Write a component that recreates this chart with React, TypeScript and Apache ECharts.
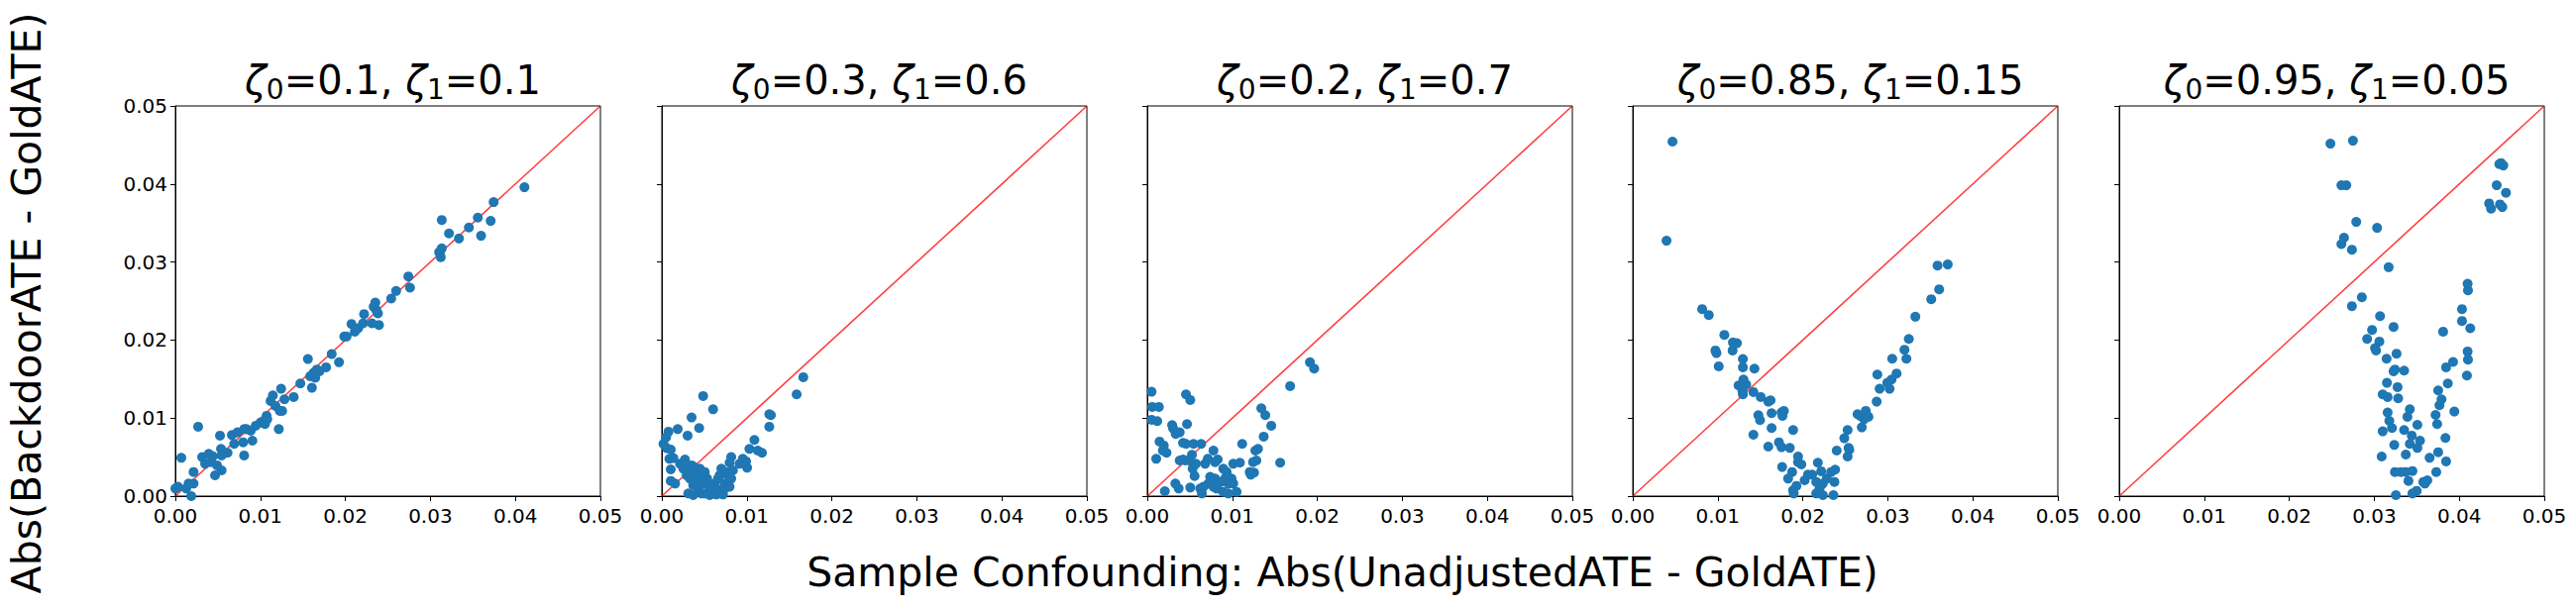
import React, { useEffect, useRef } from 'react';
import * as echarts from 'echarts';

// ---------- data ----------
const zeta0 = ['0.1', '0.3', '0.2', '0.85', '0.95'];
const zeta1 = ['0.1', '0.6', '0.7', '0.15', '0.05'];
const axisTicks = [0, 0.01, 0.02, 0.03, 0.04, 0.05];
const xLabelText = 'Sample Confounding: Abs(UnadjustedATE - GoldATE)';
const yLabelText = 'Abs(BackdoorATE - GoldATE)';
const diagonal = [[0, 0], [0.05, 0.05]];

const panel1: number[][] = [
  [0, 0.00097], [0.00031, 0.00119], [0.0007, 0.00491], [0.00128, 0.00097], [0.00156, 0.00161],
  [0.00187, 0], [0.00214, 0.00161], [0.00214, 0.00309], [0.00268, 0.00889], [0.00315, 0.005],
  [0.0035, 0.00415], [0.00393, 0.00542], [0.00439, 0.00512], [0.0042, 0.00436], [0.00467, 0.00267],
  [0.0049, 0.00394], [0.00525, 0.00775], [0.00544, 0.0033], [0.00537, 0.00605], [0.00544, 0.00521],
  [0.00614, 0.00555], [0.00665, 0.00783], [0.00692, 0.00669], [0.00731, 0.00817], [0.00797, 0.0069],
  [0.00809, 0.00859], [0.00809, 0.00521], [0.00836, 0.00859], [0.00906, 0.00711], [0.00886, 0.00838],
  [0.00945, 0.00902], [0.01003, 0.00944], [0.01054, 0.00923], [0.01073, 0.01029], [0.01081, 0.00986],
  [0.0112, 0.01219], [0.01147, 0.01291], [0.01178, 0.01156], [0.01217, 0.00859], [0.01229, 0.01092],
  [0.01244, 0.01376], [0.01256, 0.01092], [0.01283, 0.0124], [0.01392, 0.0127], [0.0147, 0.01444],
  [0.01559, 0.01757], [0.01586, 0.01537], [0.01606, 0.01389], [0.01625, 0.01579], [0.01645, 0.01516],
  [0.01664, 0.01622], [0.01695, 0.016], [0.01773, 0.01651], [0.01839, 0.0182], [0.01925, 0.01715],
  [0.01987, 0.02045], [0.02014, 0.02045], [0.02072, 0.02206], [0.02111, 0.02108], [0.0215, 0.02151],
  [0.02208, 0.02214], [0.0222, 0.02333], [0.02313, 0.02214], [0.02333, 0.02426], [0.02352, 0.02481],
  [0.02364, 0.02384], [0.02383, 0.02341], [0.02395, 0.02193], [0.02539, 0.02532], [0.02597, 0.02629],
  [0.02741, 0.02815], [0.0276, 0.02671], [0.03122, 0.03061], [0.03114, 0.03133], [0.03134, 0.03175],
  [0.03103, 0.03124], [0.03134, 0.03539], [0.03219, 0.03366], [0.03336, 0.03302], [0.03453, 0.03442],
  [0.03558, 0.03569], [0.03596, 0.03336], [0.03709, 0.03527], [0.03744, 0.03768], [0.04106, 0.03958],
];

const panel2: number[][] = [
  [0.01664, 0.01524], [0.01586, 0.01304], [0.01264, 0.0105], [0.01283, 0.01037], [0.01264, 0.00889],
  [0.01089, 0.0072], [0.0103, 0.00605], [0.01128, 0.00584], [0.01178, 0.00555], [0.01003, 0.00364],
  [0.00953, 0.00478], [0.00991, 0.00445], [0.00914, 0.00415], [0.00816, 0.005], [0.00797, 0.00428],
  [0.00836, 0.0033], [0.00778, 0.00267], [0.00816, 0.00224], [0.00797, 0.00119], [0.00739, 0.00161],
  [0.007, 0.00351], [0.00661, 0.00224], [0.0068, 0.00076], [0.00603, 0.00097], [0.00622, 0.00161],
  [0.00486, 0.01283], [0.00603, 0.01113], [0.0035, 0.01008], [0.00439, 0.00872], [0.00303, 0.00775],
  [0.00187, 0.00859], [0.00078, 0.00826], [0.00051, 0.00754], [0.00019, 0.00669], [0.00058, 0.00614],
  [0.00105, 0.00597], [0.00089, 0.00478], [0.00136, 0.00487], [0.00105, 0.00343], [0.00105, 0.00195],
  [0.00156, 0.00161], [0.00214, 0.00415], [0.00272, 0.0047], [0.00253, 0.00351], [0.00311, 0.00309],
  [0.0035, 0.00394], [0.00377, 0.00373], [0.00408, 0.00267], [0.00447, 0.00351], [0.00467, 0.00288],
  [0.00505, 0.00309], [0.00533, 0.00224], [0.00428, 0.00203], [0.0033, 0.00224], [0.00369, 0.0014],
  [0.00428, 0.00097], [0.00467, 0.00034], [0.00505, 0.00034], [0.00311, 0.00034], [0.00369, 0.00013],
  [0.00292, 0.00267], [0.00564, 0.00013], [0.00642, 0.00021], [0.00719, 0.00021], [0.00739, 0.00097],
  [0.00245, 0.00394], [0.00389, 0.00182], [0.00486, 0.00161], [0.0068, 0.00267], [0.00758, 0.00309],
  [0.00564, 0.00119],
];

const panel3: number[][] = [
  [0.01913, 0.01715], [0.01963, 0.01634], [0.0168, 0.0141], [0.01341, 0.01126], [0.01388, 0.01037],
  [0.01458, 0.00902], [0.01369, 0.00762], [0.01116, 0.00669], [0.01302, 0.00605], [0.01271, 0.00584],
  [0.01283, 0.00457], [0.01244, 0.00436], [0.01563, 0.00428], [0.01089, 0.00428], [0.01011, 0.00415],
  [0.01205, 0.00309], [0.01256, 0.00301], [0.01217, 0.00275], [0.0105, 0.00055], [0.01011, 0.00161],
  [0.00991, 0.00224], [0.00953, 0.00161], [0.00914, 0.00224], [0.00894, 0.00351], [0.00933, 0.00309],
  [0.00867, 0.00182], [0.00816, 0.00097], [0.00797, 0.00224], [0.00739, 0.00246], [0.00778, 0.00119],
  [0.00719, 0.00161], [0.00661, 0.00119], [0.0068, 0.00415], [0.00712, 0.00478], [0.00778, 0.00584],
  [0.00797, 0.00436], [0.00828, 0.0047], [0.00622, 0.00097], [0.00642, 0.00034], [0.00953, 0.00034],
  [0.00894, 0.00055], [0.00505, 0.0011], [0.00369, 0.00097], [0.0033, 0.00161], [0.00206, 0.00064],
  [0.00556, 0.00258], [0.00533, 0.00351], [0.00572, 0.00415], [0.00494, 0.00457], [0.00525, 0.00529],
  [0.00447, 0.00457], [0.0042, 0.0047], [0.00381, 0.00457], [0.00455, 0.00669], [0.0042, 0.00682],
  [0.00544, 0.00669], [0.00634, 0.00669], [0.00467, 0.00923], [0.00455, 0.01304], [0.00505, 0.01232],
  [0.00292, 0.0091], [0.00303, 0.00868], [0.00381, 0.00817], [0.00334, 0.00796], [0.00144, 0.00699],
  [0.00194, 0.00648], [0.00226, 0.00555], [0.00183, 0.00584], [0.00105, 0.00478], [0.0005, 0.01338],
  [0.00058, 0.01143], [0.00136, 0.01143], [0.0005, 0.00978], [0.00117, 0.00961],
];

const panel4: number[][] = [
  [0.00467, 0.04543], [0.00397, 0.03273], [0.00816, 0.02396], [0.00894, 0.0232], [0.01077, 0.02066],
  [0.01178, 0.01969], [0.01225, 0.0196], [0.01174, 0.01867], [0.00972, 0.01867], [0.00984, 0.01833],
  [0.01011, 0.01664], [0.01295, 0.01757], [0.01295, 0.01651], [0.01431, 0.01634], [0.01302, 0.01494],
  [0.01244, 0.01418], [0.01334, 0.01431], [0.01291, 0.01346], [0.01295, 0.01304], [0.01419, 0.01334],
  [0.01505, 0.0127], [0.01594, 0.01211], [0.01621, 0.01228], [0.01477, 0.01037], [0.01497, 0.00974],
  [0.01633, 0.01063], [0.0175, 0.01071], [0.01777, 0.01092], [0.01761, 0.01029], [0.01633, 0.00872],
  [0.01419, 0.00787], [0.01886, 0.00847], [0.01594, 0.00635], [0.01719, 0.0069], [0.0175, 0.00627],
  [0.01847, 0.00618], [0.01944, 0.00508], [0.01944, 0.00436], [0.01983, 0.00406], [0.01757, 0.00373],
  [0.01874, 0.00309], [0.01827, 0.00224], [0.02022, 0.00203], [0.02061, 0.00275], [0.02111, 0.00275],
  [0.02177, 0.00428], [0.02216, 0.00318], [0.02158, 0.00182], [0.02197, 0.00097], [0.02236, 0.00161],
  [0.02282, 0.00224], [0.02333, 0.00309], [0.0238, 0.00339], [0.02372, 0.00182], [0.0236, 0.00013],
  [0.01925, 0.00131], [0.01886, 0.00076], [0.01893, 0.00034], [0.02158, 0.00034], [0.02236, 0.00013],
  [0.02399, 0.00584], [0.02488, 0.00741], [0.02527, 0.00847], [0.02539, 0.00618], [0.02547, 0.00593],
  [0.02527, 0.00508], [0.02644, 0.0105], [0.02675, 0.01029], [0.02694, 0.00881], [0.02722, 0.00986],
  [0.02741, 0.01092], [0.02772, 0.01016], [0.02869, 0.01211], [0.02904, 0.01376], [0.02877, 0.01558],
  [0.02994, 0.01452], [0.03021, 0.01376], [0.03044, 0.01494], [0.03052, 0.01761], [0.03103, 0.01571],
  [0.03196, 0.01876], [0.03219, 0.01761], [0.03247, 0.02015], [0.03324, 0.02299], [0.03511, 0.02523],
  [0.03604, 0.0265], [0.03585, 0.02955], [0.03705, 0.02968],
];

const panel5: number[][] = [
  [0.02484, 0.04517], [0.02749, 0.04555], [0.02613, 0.03984], [0.02671, 0.03984], [0.02788, 0.03514],
  [0.03033, 0.03438], [0.02644, 0.03311], [0.02613, 0.0323], [0.02737, 0.03158], [0.03169, 0.02934],
  [0.02854, 0.02549], [0.02737, 0.02434], [0.03068, 0.02307], [0.02974, 0.0213], [0.03227, 0.02168],
  [0.02916, 0.02015], [0.0306, 0.01981], [0.03009, 0.01897], [0.03021, 0.01867], [0.03262, 0.01825],
  [0.03145, 0.01761], [0.03243, 0.01622], [0.03227, 0.016], [0.03351, 0.01609], [0.03149, 0.01452],
  [0.03274, 0.01397], [0.03099, 0.01304], [0.03157, 0.0127], [0.03281, 0.01253], [0.03157, 0.01071],
  [0.03177, 0.00965], [0.03208, 0.00872], [0.03099, 0.0083], [0.03418, 0.01113], [0.0339, 0.01016],
  [0.03507, 0.00914], [0.03351, 0.00847], [0.03441, 0.00775], [0.03418, 0.00669], [0.03235, 0.00656],
  [0.03538, 0.00711], [0.03507, 0.00618], [0.03371, 0.00533], [0.03087, 0.00508], [0.03651, 0.00491],
  [0.03752, 0.00563], [0.03845, 0.00445], [0.03243, 0.00309], [0.03313, 0.00309], [0.03371, 0.00309],
  [0.03449, 0.00322], [0.03729, 0.00309], [0.03402, 0.00195], [0.03577, 0.00182], [0.03624, 0.00203],
  [0.03596, 0.00161], [0.03499, 0.00068], [0.03449, 0.00034], [0.03254, 0.00013], [0.03837, 0.00745],
  [0.0374, 0.00923], [0.03721, 0.01041], [0.03942, 0.01084], [0.03767, 0.01164], [0.03791, 0.0124],
  [0.03752, 0.01355], [0.03865, 0.01444], [0.03845, 0.01651], [0.03927, 0.01719], [0.0409, 0.01545],
  [0.04102, 0.01749], [0.04098, 0.01854], [0.0381, 0.02108], [0.04129, 0.02151], [0.04032, 0.02244],
  [0.04032, 0.02396], [0.04102, 0.02638], [0.04098, 0.02722], [0.04351, 0.03751], [0.04374, 0.03683],
  [0.04479, 0.03738], [0.04506, 0.03704], [0.0444, 0.03984], [0.04549, 0.03887], [0.04471, 0.04255],
  [0.04518, 0.04238], [0.04491, 0.04268],
];

const panels = [panel1, panel2, panel3, panel4, panel5];

// ---------- layout ----------
const W = 2600;
const H = 615;
const gridLefts = [177, 668, 1158, 1648, 2139];
const gridTop = 107;
const gridW = 429;
const gridH = 394;
const FONT = 'DejaVu Sans';
const TICK_FS = 20;

export default function App() {
  const ref = useRef<HTMLDivElement>(null);

  useEffect(() => {
    if (!ref.current) return;
    const chart = echarts.init(ref.current, undefined, { renderer: 'svg', width: W, height: H });
    const axMin = axisTicks[0];
    const axMax = axisTicks[axisTicks.length - 1];
    const axInt = axisTicks[1] - axisTicks[0];

    const grid = gridLefts.map((l) => ({
      left: l, top: gridTop, width: gridW, height: gridH,
      show: true, borderColor: '#000', borderWidth: 1, backgroundColor: '#fff',
      containLabel: false,
    }));

    const labelStyle = (show: boolean) => ({
      show, margin: 8, color: '#000', fontSize: TICK_FS, fontFamily: FONT, fontWeight: 'normal',
      showMinLabel: true, showMaxLabel: true,
      formatter: (v: number) => `{t|${v.toFixed(2)}}`,
      rich: {
        t: { fontSize: TICK_FS, fontFamily: FONT, color: '#000', fontWeight: 'normal', lineHeight: 24 },
      },
    });

    const xAxis = gridLefts.map((_, i) => ({
      type: 'value', gridIndex: i, min: axMin, max: axMax, interval: axInt,
      splitLine: { show: false },
      axisLine: { show: true, onZero: false, lineStyle: { color: '#000', width: 1 } },
      axisTick: { show: true, length: 5, lineStyle: { color: '#000', width: 1 } },
      axisLabel: labelStyle(true),
    }));

    const yAxis = gridLefts.map((_, i) => ({
      type: 'value', gridIndex: i, min: axMin, max: axMax, interval: axInt,
      splitLine: { show: false },
      axisLine: { show: true, onZero: false, lineStyle: { color: '#000', width: 1 } },
      axisTick: { show: true, length: 5, lineStyle: { color: '#000', width: 1 } },
      axisLabel: labelStyle(i === 0),
    }));

    const series: any[] = [];
    panels.forEach((pts, i) => {
      series.push({
        type: 'line', xAxisIndex: i, yAxisIndex: i, data: diagonal,
        showSymbol: false, symbol: 'none', silent: true, z: 2,
        lineStyle: { color: 'rgba(255,0,0,0.75)', width: 1.6 },
      });
      series.push({
        type: 'scatter', xAxisIndex: i, yAxisIndex: i, data: pts,
        symbol: 'circle', symbolSize: 10, clip: true, z: 3,
        itemStyle: { color: '#1f77b4', opacity: 1 },
      });
    });

    const title = gridLefts.map((l, i) => ({
      text: `{i|ζ}{s|0}{m|=${zeta0[i]}, }{i|ζ}{s|1}{m|=${zeta1[i]}}`,
      left: l + gridW / 2,
      top: 53,
      textAlign: 'center',
      textStyle: {
        fontWeight: 'normal', fontFamily: FONT, fontSize: 40,
        rich: {
          i: { fontFamily: FONT, fontSize: 40, fontWeight: 'normal', fontStyle: 'italic', color: '#000', lineHeight: 46, verticalAlign: 'middle' },
          m: { fontFamily: FONT, fontSize: 40, fontWeight: 'normal', color: '#000', lineHeight: 46, verticalAlign: 'middle' },
          s: { fontFamily: FONT, fontSize: 28, fontWeight: 'normal', color: '#000', lineHeight: 24, verticalAlign: 'bottom' },
        },
      },
    }));

    chart.setOption({
      animation: false,
      backgroundColor: '#fff',
      title,
      grid,
      xAxis,
      yAxis,
      series,
      graphic: [
        {
          type: 'text', x: 1355, y: 578,
          style: {
            text: xLabelText, fontFamily: FONT, fontSize: 41, fill: '#000',
            textAlign: 'center', textVerticalAlign: 'middle',
          },
        },
        {
          type: 'text', x: 27, y: 306, rotation: Math.PI / 2,
          style: {
            text: yLabelText, fontFamily: FONT, fontSize: 41, fill: '#000',
            textAlign: 'center', textVerticalAlign: 'middle',
          },
        },
      ],
    });
    return () => chart.dispose();
  }, []);

  return (
    <div
      ref={ref}
      style={{ position: 'fixed', left: 0, top: 0, width: W, height: H, background: '#fff' }}
    />
  );
}
